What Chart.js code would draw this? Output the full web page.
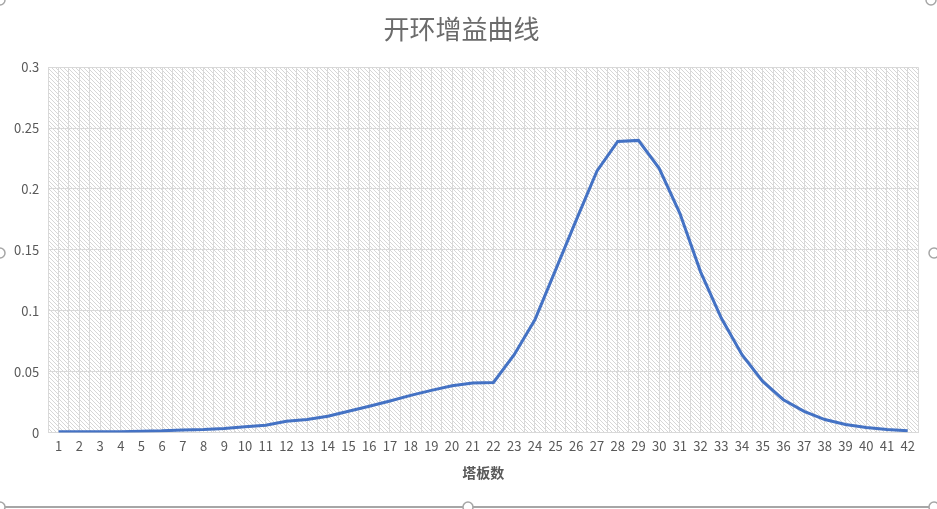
<!DOCTYPE html>
<html>
<head>
<meta charset="utf-8">
<script src="https://cdn.jsdelivr.net/npm/chart.js@4/dist/chart.umd.min.js"></script>
<style>
  html, body { margin: 0; padding: 0; background: #fff; }
  #wrap { width: 937px; height: 509px; position: relative; }
</style>
</head>
<body>
<div id="wrap"><canvas id="Graphic" width="937" height="509"></canvas></div>
<script>
// plate numbers and open-loop gain
const plates = [1,2,3,4,5,6,7,8,9,10,11,12,13,14,15,16,17,18,19,20,21,
                22,23,24,25,26,27,28,29,30,31,32,33,34,35,36,37,38,39,40,41,42];
const gain = [0.0006,0.0006,0.0007,0.0008,0.0012,0.0015,0.0022,0.0025,0.0033,0.0049,0.006,
              0.0093,0.0107,0.0134,0.0175,0.0216,0.026,0.0306,0.0347,0.0385,0.0407,
              0.0412,0.064,0.0926,0.1336,0.1746,0.2148,0.239,0.2399,0.217,0.18,
              0.132,0.094,0.064,0.042,0.027,0.0175,0.0107,0.0066,0.0041,0.0025,0.0016];
const yTicks = [0, 0.05, 0.1, 0.15, 0.2, 0.25, 0.3];

const textColor = '#595959';
const gridColor = '#d9d9d9';
const font = '"Noto Sans CJK SC", "Noto Sans", sans-serif';

function makeHatch() {
    const c = document.createElement('canvas');
    c.width = 4;
    c.height = 4;
    const g = c.getContext('2d');
    g.fillStyle = '#ffffff';
    g.fillRect(0, 0, 4, 4);
    g.fillStyle = '#d6d6d6';
    for (let i = 0; i < 4; i++) {
        g.fillRect(i, i, 1, 1);
    }
    return c;
}

const hatchPlugin = {
    id: 'hatch',
    beforeDraw(chart) {
        const ctx = chart.ctx;
        const a = chart.chartArea;
        ctx.save();
        ctx.fillStyle = ctx.createPattern(makeHatch(), 'repeat');
        ctx.fillRect(a.left, a.top, a.right - a.left, a.bottom - a.top);
        ctx.restore();
    }
};

// selection frame round the chart, as in the screenshot
const framePlugin = {
    id: 'frame',
    afterDraw(chart) {
        const ctx = chart.ctx;
        const w = chart.width, h = chart.height;
        ctx.save();
        ctx.strokeStyle = '#a6a6a6';
        ctx.lineWidth = 2;
        ctx.beginPath();
        ctx.moveTo(2, h - 2);
        ctx.lineTo(w - 4, h - 2);
        ctx.stroke();
        ctx.lineWidth = 1.5;
        const handles = [[0, 0], [w - 6, 0], [0, 253], [w - 3, 253], [468, h - 2], [0, h - 2], [w - 3, h - 2]];
        handles.forEach(p => {
            ctx.beginPath();
            ctx.arc(p[0], p[1], 5, 0, Math.PI * 2);
            ctx.fillStyle = '#fff';
            ctx.fill();
            ctx.stroke();
        });
        ctx.restore();
    }
};

new Chart(document.getElementById('Graphic').getContext('2d'), {
    type: 'line',
    data: {
        datasets: [{
            data: plates.map((p, i) => ({ x: p, y: gain[i] })),
            borderColor: '#4472c4',
            borderWidth: 3,
            pointRadius: 0,
            tension: 0,
            fill: false
        }]
    },
    options: {
        responsive: false,
        animation: false,
        layout: { padding: { left: 5, right: 19, top: 0, bottom: 24 } },
        plugins: {
            legend: { display: false },
            tooltip: { enabled: false },
            title: {
                display: true,
                text: '开环增益曲线',
                color: '#6b6b6b',
                font: { family: font, size: 26, weight: 'normal' },
                padding: { top: 14, bottom: 22 }
            }
        },
        scales: {
            x: {
                type: 'linear',
                min: 0.5,
                max: 42.5,
                afterBuildTicks(axis) {
                    const t = [];
                    for (let v = 0.5; v <= 42.5; v += 0.5) t.push({ value: v });
                    axis.ticks = t;
                },
                ticks: {
                    autoSkip: false,
                    maxRotation: 0,
                    color: textColor,
                    font: { family: font, size: 13 },
                    padding: 6,
                    callback: v => Number.isInteger(v) ? String(v) : ''
                },
                grid: { color: gridColor, drawTicks: false },
                border: { display: false },
                title: {
                    display: true,
                    text: '塔板数',
                    color: textColor,
                    font: { family: font, size: 14, weight: 'bold' },
                    padding: { top: 4 }
                }
            },
            y: {
                min: 0,
                max: 0.3,
                afterBuildTicks(axis) {
                    axis.ticks = yTicks.map(v => ({ value: v }));
                },
                ticks: {
                    color: textColor,
                    font: { family: font, size: 13 },
                    padding: 9,
                    callback: v => String(+v.toFixed(2))
                },
                grid: { color: gridColor, drawTicks: false },
                border: { display: false }
            }
        }
    },
    plugins: [hatchPlugin, framePlugin]
});
</script>
</body>
</html>
